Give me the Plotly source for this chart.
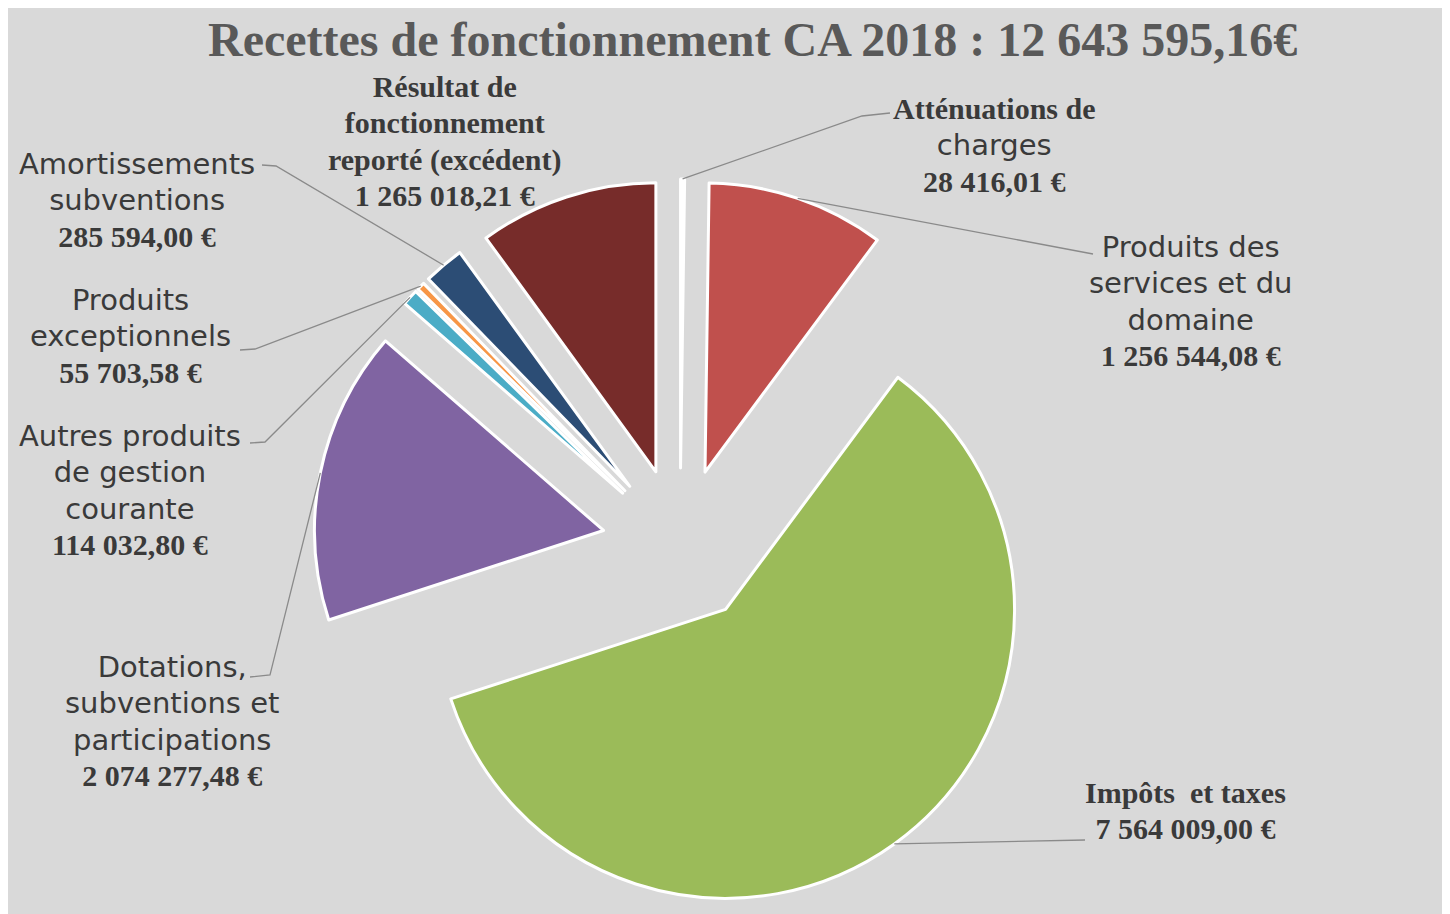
import math
import plotly.graph_objects as go

# ---------------- data ----------------
categories = [
    "Atténuations de charges",
    "Produits des services et du domaine",
    "Impôts et taxes",
    "Dotations, subventions et participations",
    "Autres produits de gestion courante",
    "Produits exceptionnels",
    "Amortissements subventions",
    "Résultat de fonctionnement reporté (excédent)",
]
values = [28416.01, 1256544.08, 7564009.00, 2074277.48, 114032.80, 55703.58, 285594.00, 1265018.21]
value_texts = ["28 416,01 €", "1 256 544,08 €", "7 564 009,00 €", "2 074 277,48 €",
               "114 032,80 €", "55 703,58 €", "285 594,00 €", "1 265 018,21 €"]
title_text = "Recettes de fonctionnement CA 2018 : 12 643 595,16€"

# ---------------- style / layout ----------------
colors = ["#FFFFFF", "#C0504D", "#9BBB59", "#8064A2", "#4BACC6", "#F79646", "#2C4D75", "#772C2A"]
OFF = 8                     # page body margin
W, H = 1435, 906            # figure size
CX, CY, R = 680, 546, 289   # pie centre and radius (screen px)
PULL = 0.27
SERIF = "Liberation Serif"
SANS = "DejaVu Sans"
TXT = "#3A3A3A"

label_lines = [
    [("Atténuations de", "s"), ("charges", "a")],
    [("Produits des", "a"), ("services et du", "a"), ("domaine", "a")],
    [("Impôts  et taxes", "s")],
    [("Dotations,", "a"), ("subventions et", "a"), ("participations", "a")],
    [("Autres produits", "a"), ("de gestion", "a"), ("courante", "a")],
    [("Produits", "a"), ("exceptionnels", "a")],
    [("Amortissements", "a"), ("subventions", "a")],
    [("Résultat de", "s"), ("fonctionnement", "s"), ("reporté (excédent)", "s")],
]
label_pos = [(995, 145), (1190, 301), (1185, 810), (172, 721),
             (130, 490), (130, 336), (137, 200), (445, 141)]
leader_pts = [
    [(890, 113), (862, 116)],
    [(1093, 254)],
    [(1085, 840)],
    [(250, 677), (270, 675)],
    [(250, 443), (265, 442)],
    [(240, 350), (255, 349)],
    [(262, 165), (276, 166)],
    None,
]


def px(x):
    return (x - OFF) / W


def py(y):
    return 1 - (y - OFF) / H


def clamp(v):
    return min(1.0, max(0.0, v))


half = R * (1 + PULL)
dom_x = [clamp(px(CX - half)), clamp(px(CX + half))]
dom_y = [clamp(py(CY + half)), clamp(py(CY - half))]

fig = go.Figure(go.Pie(
    labels=categories,
    values=values,
    sort=False,
    direction="clockwise",
    rotation=0,
    pull=[PULL] * len(values),
    marker=dict(colors=colors, line=dict(color="white", width=3)),
    textinfo="none",
    hoverinfo="label+value+percent",
    domain=dict(x=dom_x, y=dom_y),
    showlegend=False,
))


def serif_line(t):
    return f"<span style=\"font-size:30px\"><b>{t}</b></span>"


def sans_line(t):
    return f"<span style=\"font-family:'{SANS}';font-size:29px\">{t}</span>"


shapes = []
total = sum(values)
cum = 0.0
annotations = []
for i, v in enumerate(values):
    theta = 2 * math.pi * (cum + v / 2) / total
    cum += v
    ex = CX + R * (1 + PULL) * math.sin(theta)
    ey = CY - R * (1 + PULL) * math.cos(theta)
    if leader_pts[i]:
        pts = list(leader_pts[i]) + [(ex, ey)]
        path = "M " + " L ".join(f"{px(a):.5f},{py(b):.5f}" for a, b in pts)
        shapes.append(dict(type="path", xref="paper", yref="paper", path=path,
                           line=dict(color="#8A8A8A", width=1.3)))
    parts = [serif_line(t) if f == "s" else sans_line(t) for t, f in label_lines[i]]
    parts.append(serif_line(value_texts[i]))
    lx, ly = label_pos[i]
    annotations.append(dict(
        text="<br>".join(parts), x=px(lx), y=py(ly), xref="paper", yref="paper",
        xanchor="center", yanchor="middle", align="center", showarrow=False,
        font=dict(family=SERIF, size=28, color=TXT),
    ))

annotations.append(dict(
    text=f"<b>{title_text}</b>", x=px(752), y=py(40), xref="paper", yref="paper",
    xanchor="center", yanchor="middle", showarrow=False,
    font=dict(family=SERIF, size=48, color="#595959"),
))

fig.update_layout(
    width=W, height=H,
    margin=dict(l=0, r=0, t=0, b=0),
    paper_bgcolor="#D9D9D9",
    shapes=shapes,
    annotations=annotations,
)

fig.write_html("out.html")
